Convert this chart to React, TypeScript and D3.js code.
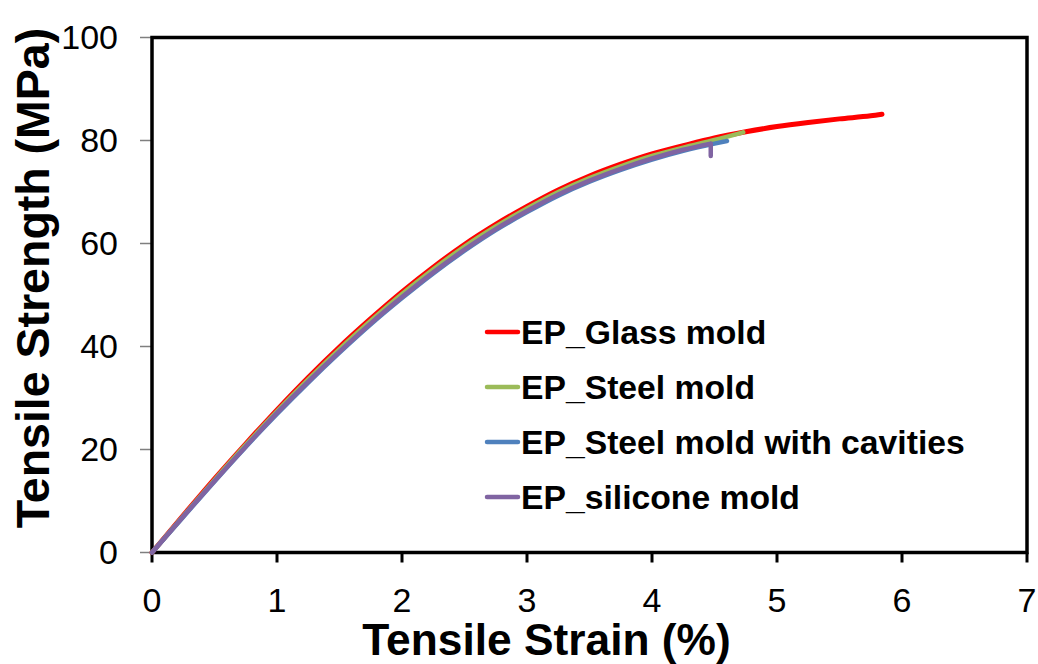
import React from "react";
import * as d3 from "d3";

const xTicks = [0, 1, 2, 3, 4, 5, 6, 7];
const yTicks = [0, 20, 40, 60, 80, 100];

const glassStrain = [0, 0.25, 0.5, 0.75, 1.0, 1.25, 1.5, 1.75, 2.0, 2.25, 2.5, 2.75, 3.0, 3.25, 3.5, 3.75, 4.0, 4.25, 4.5, 4.75, 5.0, 5.25, 5.5, 5.75, 5.84];
const glassStress = [0, 7.2, 14.3, 21.1, 27.7, 34.0, 39.9, 45.4, 50.6, 55.4, 59.8, 63.7, 67.2, 70.4, 73.1, 75.4, 77.4, 79.0, 80.5, 81.7, 82.7, 83.5, 84.2, 84.8, 85.1];

const steelStrain = [0, 0.25, 0.5, 0.75, 1.0, 1.25, 1.5, 1.75, 2.0, 2.25, 2.5, 2.75, 3.0, 3.25, 3.5, 3.75, 4.0, 4.25, 4.5, 4.73];
const steelStress = [0, 7.1, 14.1, 20.9, 27.4, 33.6, 39.5, 45.0, 50.2, 55.0, 59.4, 63.3, 66.8, 70.0, 72.7, 75.0, 77.0, 78.6, 80.1, 81.6];

const cavityStrain = [0, 0.25, 0.5, 0.75, 1.0, 1.25, 1.5, 1.75, 2.0, 2.25, 2.5, 2.75, 3.0, 3.25, 3.5, 3.75, 4.0, 4.25, 4.5, 4.6];
const cavityStress = [0, 6.9, 13.8, 20.5, 26.9, 33.0, 38.8, 44.3, 49.4, 54.2, 58.6, 62.6, 66.1, 69.3, 72.0, 74.3, 76.3, 78.0, 79.4, 79.9];

const siliconeStrain = [0, 0.25, 0.5, 0.75, 1.0, 1.25, 1.5, 1.75, 2.0, 2.25, 2.5, 2.75, 3.0, 3.25, 3.5, 3.75, 4.0, 4.25, 4.47, 4.47];
const siliconeStress = [0, 7.0, 13.9, 20.6, 27.1, 33.2, 39.0, 44.5, 49.6, 54.4, 58.8, 62.8, 66.3, 69.5, 72.2, 74.5, 76.5, 78.2, 79.4, 77.0];

const seriesNames = ["EP_Glass mold", "EP_Steel mold", "EP_Steel mold with cavities", "EP_silicone mold"];
const seriesColors = ["#FF0000", "#9BBB59", "#4F81BD", "#8064A2"];

const W = 1038;
const H = 664;
const left = 152;
const right = 1027;
const top = 37.5;
const bottom = 552.5;

export default function App() {
  const x = d3.scaleLinear().domain([0, 7]).range([left, right]);
  const y = d3.scaleLinear().domain([0, 100]).range([bottom, top]);

  const series = [
    { strain: glassStrain, stress: glassStress },
    { strain: steelStrain, stress: steelStress },
    { strain: cavityStrain, stress: cavityStress },
    { strain: siliconeStrain, stress: siliconeStress },
  ].map((s) => s.strain.map((v, i) => [v, s.stress[i]] as [number, number]));

  const smooth = d3
    .line<[number, number]>()
    .x((d) => x(d[0]))
    .y((d) => y(d[1]))
    .curve(d3.curveMonotoneX);
  const straight = d3
    .line<[number, number]>()
    .x((d) => x(d[0]))
    .y((d) => y(d[1]));

  const pathFor = (pts: [number, number][]) => {
    let n = pts.length;
    while (n > 1 && pts[n - 1][0] === pts[n - 2][0]) n--;
    const main = smooth(pts.slice(0, n)) || "";
    const tail = n < pts.length ? straight(pts.slice(n - 1)) || "" : "";
    return main + tail;
  };

  const font = "Arial, 'Liberation Sans', Helvetica, sans-serif";
  const legendX = 487;
  const legendY0 = 332;
  const legendDy = 55;

  return (
    <svg
      width={W}
      height={H}
      style={{ position: "absolute", left: 0, top: 0, background: "#fff" }}
      fontFamily={font}
    >
      <rect x={0} y={0} width={W} height={H} fill="#fff" />
      {yTicks.map((t) => (
        <g key={"y" + t}>
          <line x1={140} x2={left} y1={y(t)} y2={y(t)} stroke="#7f7f7f" strokeWidth={1.5} />
          <text x={118} y={y(t)} dy="0.35em" textAnchor="end" fontSize={34} fill="#000">
            {t}
          </text>
        </g>
      ))}
      {xTicks.map((t) => (
        <g key={"x" + t}>
          <line x1={x(t)} x2={x(t)} y1={bottom} y2={bottom + 10} stroke="#000" strokeWidth={3} />
          <text x={x(t)} y={612} textAnchor="middle" fontSize={34} fill="#000">
            {t}
          </text>
        </g>
      ))}
      <rect x={left} y={top} width={right - left} height={bottom - top} fill="none" stroke="#000" strokeWidth={3.5} />
      {series.map((pts, i) => (
        <path
          key={"s" + i}
          d={pathFor(pts)}
          fill="none"
          stroke={seriesColors[i]}
          strokeWidth={i === 0 ? 5 : 4.5}
          strokeLinecap="round"
          strokeLinejoin="round"
        />
      ))}
      {seriesNames.map((name, i) => (
        <g key={"l" + i}>
          <line
            x1={legendX}
            x2={legendX + 31}
            y1={legendY0 + i * legendDy}
            y2={legendY0 + i * legendDy}
            stroke={seriesColors[i]}
            strokeWidth={4.5}
            strokeLinecap="round"
          />
          <text x={legendX + 34} y={legendY0 + i * legendDy + 11.5} fontSize={33.7} fontWeight="bold" fill="#000">
            {name}
          </text>
        </g>
      ))}
      <text x={546.5} y={655} textAnchor="middle" fontSize={44.3} fontWeight="bold" fill="#000">
        Tensile Strain (%)
      </text>
      <text
        transform={`translate(49, 278) rotate(-90)`}
        textAnchor="middle"
        fontSize={46.5}
        fontWeight="bold"
        fill="#000"
      >
        Tensile Strength (MPa)
      </text>
    </svg>
  );
}
